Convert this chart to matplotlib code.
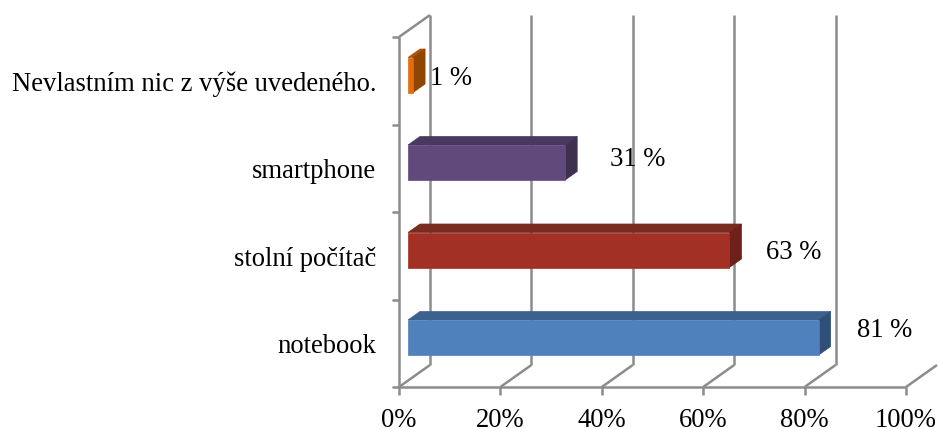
import matplotlib.pyplot as plt
from matplotlib.patches import Polygon

plt.rcParams['font.family'] = ['Liberation Serif', 'DejaVu Serif']

categories = ['notebook', 'stolní počítač', 'smartphone', 'Nevlastním nic z výše uvedeného.']
values = [81, 63.4, 31, 1]
value_labels = ['81 %', '63 %', '31 %', '1 %']
tick_values = [0, 20, 40, 60, 80, 100]
tick_labels = ['0%', '20%', '40%', '60%', '80%', '100%']

# colours per bar: front, top, side
front_colors = ['#4F81BD', '#A23025', '#604A7B', '#E46C0A']
top_colors = ['#3C618E', '#7B2A1F', '#4A3860', '#B05508']
side_colors = ['#2F4F78', '#6E2118', '#3F3050', '#8F4503']

W, H = 938, 429
PX_X = 507 / 100  # pixels per percent
PX_Y = 350 / 4    # pixels per category
GRAY = '#8C8C8C'
FS = 19.2

fig = plt.figure(figsize=(W / 100, H / 100), dpi=100)
ax = fig.add_axes([399 / W, (H - 387) / H, 507 / W, 350 / H])
ax.set_xlim(0, 100)
ax.set_ylim(0, 4)
ax.axis('off')

# depth of the 3D box and of the bars, in data units
wall_dx = 31 / PX_X
wall_dy = 22 / PX_Y
bar_dx = 12 / PX_X
bar_dy = 8.5 / PX_Y
bar_x0 = 9 / PX_X
bar_h = 35 / PX_Y
lw = 1.8


def wall_line(xs, ys):
    ax.plot(xs, ys, color=GRAY, lw=lw, clip_on=False, solid_capstyle='butt', zorder=1)


# back wall and floor
for t in tick_values:
    wall_line([t, t + wall_dx], [0, wall_dy])
    wall_line([t, t], [0, -8 / PX_Y])
    if t < 100:
        wall_line([t + wall_dx, t + wall_dx], [wall_dy, 4 + wall_dy])
    ax.text(t, -40 / PX_Y, tick_labels[tick_values.index(t)], ha='center', va='baseline',
            fontsize=FS, clip_on=False)

# left wall
wall_line([0, 100], [0, 0])
wall_line([0, 0], [0, 4])
wall_line([0, wall_dx], [4, 4 + wall_dy])
for i in range(5):
    wall_line([-7 / PX_X, 0], [i, i])

# bars
bar_bottoms = [(387 - 355) / PX_Y, (387 - 267.5) / PX_Y, (387 - 180) / PX_Y, (387 - 92.5) / PX_Y]
label_x = [(857 - 399) / PX_X, (766 - 399) / PX_X, (610 - 399) / PX_X, (430 - 399) / PX_X]
label_y = [(387 - 330.5) / PX_Y, (387 - 252.5) / PX_Y, (387 - 159) / PX_Y, (387 - 78.5) / PX_Y]
name_y = [(387 - 346.5) / PX_Y, (387 - 259) / PX_Y, (387 - 172) / PX_Y, (387 - 84.5) / PX_Y]

for i in range(len(values)):
    x0 = bar_x0
    x1 = bar_x0 + values[i]
    y0 = bar_bottoms[i]
    y1 = y0 + bar_h
    ax.add_patch(Polygon([(x0, y1), (x0 + bar_dx, y1 + bar_dy), (x1 + bar_dx, y1 + bar_dy), (x1, y1)],
                         color=top_colors[i], lw=0.5, zorder=2, clip_on=False))
    ax.add_patch(Polygon([(x1, y0), (x1 + bar_dx, y0 + bar_dy), (x1 + bar_dx, y1 + bar_dy), (x1, y1)],
                         color=side_colors[i], lw=0.5, zorder=2, clip_on=False))
    ax.add_patch(Polygon([(x0, y0), (x1, y0), (x1, y1), (x0, y1)],
                         color=front_colors[i], lw=0.5, zorder=3, clip_on=False))
    ax.text(label_x[i], label_y[i], value_labels[i], ha='left', va='center',
            fontsize=FS, clip_on=False, zorder=4)
    ax.text(-23 / PX_X, name_y[i], categories[i], ha='right', va='center',
            fontsize=FS, clip_on=False, zorder=4)

fig.savefig('out.png', dpi=100)
